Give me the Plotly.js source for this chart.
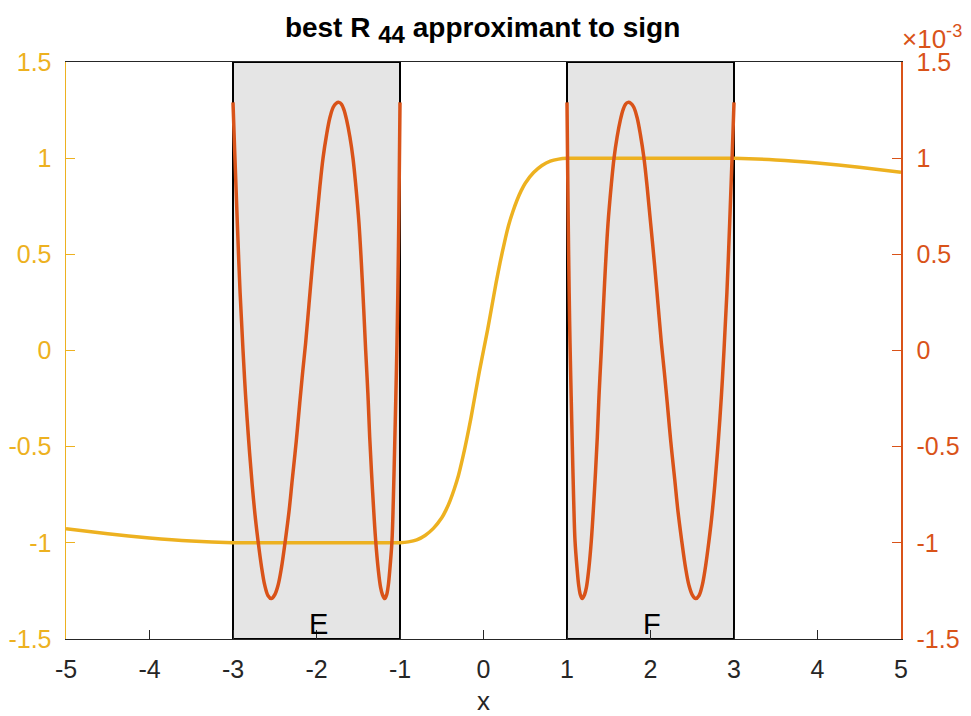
<!DOCTYPE html>
<html>
<head>
<meta charset="utf-8">
<script src="https://cdn.plot.ly/plotly-3.0.1.min.js"></script>
<style>html,body{margin:0;padding:0;background:#fff;}#chart{width:971px;height:716px;}</style>
</head>
<body>
<div id="chart"></div>
<script>
// best R44 approximant r(x) to sign(x)
const rX = [-5,-4.5,-4,-3.5,-3,-2.5,-2,-1.5,-1,-0.9,-0.8,-0.7,-0.6,-0.5,-0.45,-0.4,-0.35,-0.3,-0.25,-0.2,-0.15,-0.1,-0.05,0,
            0.05,0.1,0.15,0.2,0.25,0.3,0.35,0.4,0.45,0.5,0.6,0.7,0.8,0.9,1,1.5,2,2.5,3,3.5,4,4.5,5];
const rY = [-0.927,-0.953,-0.975,-0.991,-0.999,-1.0,-1.0,-1.0,-0.999,-0.995,-0.985,-0.962,-0.925,-0.87,-0.83,-0.78,-0.72,-0.65,-0.56,-0.46,-0.35,-0.23,-0.11,0,
            0.11,0.23,0.35,0.46,0.56,0.65,0.72,0.78,0.83,0.87,0.925,0.962,0.985,0.995,0.999,1.0,1.0,1.0,0.999,0.991,0.975,0.953,0.927];

// error curve on E = [-3,-1] (units of 1e-3)
const errEx = [-3,-2.985,-2.97,-2.948,-2.915,-2.88,-2.85,-2.812,-2.77,-2.73,-2.70,-2.66,-2.62,-2.58,-2.541,
               -2.50,-2.46,-2.42,-2.374,-2.33,-2.29,-2.242,-2.20,-2.165,-2.13,-2.09,-2.05,-2.002,-1.96,-1.922,-1.88,-1.84,-1.80,-1.765,-1.731,
               -1.70,-1.67,-1.64,-1.60,-1.563,-1.53,-1.491,-1.45,-1.411,-1.385,-1.363,-1.33,-1.291,-1.26,-1.233,-1.21,-1.183,
               -1.16,-1.14,-1.12,-1.096,-1.08,-1.064,-1.05,-1.036,-1.026,-1.016,-1.008,-1.0];
const errEy = [1.29,1.10,0.92,0.66,0.30,0.0,-0.23,-0.47,-0.70,-0.88,-0.99,-1.12,-1.22,-1.275,-1.29,
               -1.27,-1.22,-1.13,-0.99,-0.84,-0.67,-0.47,-0.27,-0.11,0.04,0.24,0.44,0.66,0.85,1.0,1.12,1.21,1.265,1.285,1.29,
               1.28,1.25,1.20,1.11,1.0,0.86,0.66,0.35,0.0,-0.22,-0.45,-0.72,-0.99,-1.14,-1.23,-1.27,-1.29,
               -1.27,-1.22,-1.13,-0.99,-0.78,-0.50,-0.24,0.04,0.30,0.62,0.94,1.29];
// error curve on F = [1,3] (units of 1e-3)
const errFx = [1.0,1.008,1.016,1.026,1.036,1.05,1.064,1.08,1.096,1.12,1.14,1.16,
               1.183,1.21,1.233,1.26,1.291,1.33,1.363,1.385,1.411,1.45,1.491,1.53,1.563,1.60,1.64,1.67,1.70,
               1.731,1.765,1.80,1.84,1.88,1.922,1.96,2.002,2.05,2.09,2.13,2.165,2.20,2.242,2.29,2.33,2.374,2.42,2.46,2.50,
               2.541,2.58,2.62,2.66,2.70,2.73,2.77,2.812,2.85,2.88,2.915,2.948,2.97,2.985,3.0];
const errFy = [1.29,0.94,0.62,0.30,0.04,-0.24,-0.50,-0.78,-0.99,-1.13,-1.22,-1.27,
               -1.29,-1.27,-1.23,-1.14,-0.99,-0.72,-0.45,-0.22,0.0,0.35,0.66,0.86,1.0,1.11,1.20,1.25,1.28,
               1.29,1.285,1.265,1.21,1.12,1.0,0.85,0.66,0.44,0.24,0.04,-0.11,-0.27,-0.47,-0.67,-0.84,-0.99,-1.13,-1.22,-1.27,
               -1.29,-1.275,-1.22,-1.12,-0.99,-0.88,-0.70,-0.47,-0.23,0.0,0.30,0.66,0.92,1.10,1.29];

const xTicks = [-5,-4,-3,-2,-1,0,1,2,3,4,5];
const yTicks = [-1.5,-1,-0.5,0,0.5,1,1.5];
const yTickText = ['-1.5','-1','-0.5','0','0.5','1','1.5'];
const intervals = [[-3,-1],[1,3]];
const intervalNames = ['E','F'];

const YEL = '#EDB120', ORG = '#D95319', AX = '#262626';
const FONT = 'Liberation Sans, Arial, Helvetica, sans-serif';
const TICKSIZE = 25;

const traces = [
  {x: rX, y: rY, type: 'scatter', mode: 'lines', line: {color: YEL, width: 3.5, shape: 'spline', smoothing: 0.6}, yaxis: 'y', hoverinfo: 'skip'},
  {x: errEx, y: errEy, type: 'scatter', mode: 'lines', line: {color: ORG, width: 3.5, shape: 'spline', smoothing: 1}, yaxis: 'y2', hoverinfo: 'skip'},
  {x: errFx, y: errFy, type: 'scatter', mode: 'lines', line: {color: ORG, width: 3.5, shape: 'spline', smoothing: 1}, yaxis: 'y2', hoverinfo: 'skip'}
];

const shapes = intervals.map(iv => ({
  type: 'rect', xref: 'x', yref: 'y', x0: iv[0], x1: iv[1], y0: -1.5, y1: 1.5,
  fillcolor: '#E5E5E5', line: {color: '#000', width: 2}, layer: 'below'
}));

const annotations = intervals.map((iv, i) => ({
  x: (iv[0] + iv[1]) / 2 + 0.02, y: -1.42, xref: 'x', yref: 'y', text: intervalNames[i],
  showarrow: false, font: {family: FONT, size: 29, color: '#000'}
}));
annotations.push({
  xref: 'paper', yref: 'paper', x: 1.0, y: 1.0, xanchor: 'left', yanchor: 'bottom', yshift: 6, xshift: -1,
  text: '×10<sup>-3</sup>', showarrow: false, font: {family: FONT, size: 26, color: ORG}
});

const layout = {
  width: 971, height: 716,
  margin: {l: 66, r: 70, t: 62, b: 77},
  paper_bgcolor: '#fff', plot_bgcolor: '#fff',
  showlegend: false,
  title: {text: 'best R <sub><span style="font-size:24px">44</span></sub> approximant to sign', x: 0.497, xanchor: 'center', y: 0.962, yanchor: 'middle', yref: 'container',
          font: {family: FONT, size: 28, color: '#000', weight: 'bold'}},
  xaxis: {range: [-5, 5], tickvals: xTicks, ticktext: xTicks.map(String), ticks: 'inside', ticklen: 9, tickwidth: 1, tickcolor: AX,
          showline: true, linecolor: AX, linewidth: 1, mirror: true, showgrid: false, zeroline: false,
          tickfont: {family: FONT, size: TICKSIZE, color: AX}, ticklabelstandoff: 8,
          title: {text: 'x', font: {family: FONT, size: 26, color: AX}, standoff: 14}},
  yaxis: {range: [-1.5, 1.5], tickvals: yTicks, ticktext: yTickText, ticks: 'inside', ticklen: 9, tickwidth: 1, tickcolor: YEL,
          showline: true, linecolor: YEL, linewidth: 1.5, showgrid: false, zeroline: false,
          tickfont: {family: FONT, size: TICKSIZE, color: YEL}, ticklabelstandoff: 8},
  yaxis2: {range: [-1.5, 1.5], overlaying: 'y', side: 'right', tickvals: yTicks, ticktext: yTickText, ticks: 'inside', ticklen: 9, tickwidth: 1, tickcolor: ORG,
           showline: true, linecolor: ORG, linewidth: 1.5, showgrid: false, zeroline: false,
           tickfont: {family: FONT, size: TICKSIZE, color: ORG}, ticklabelstandoff: 9},
  shapes: shapes,
  annotations: annotations
};

Plotly.newPlot('chart', traces, layout, {staticPlot: true, displayModeBar: false});
</script>
</body>
</html>
